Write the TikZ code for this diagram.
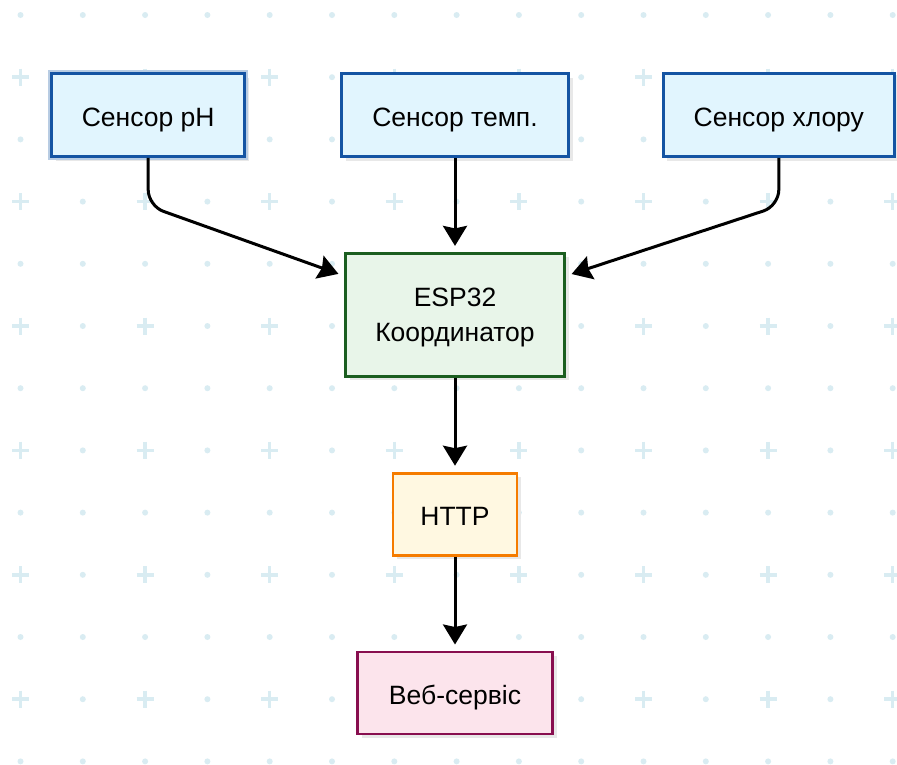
\documentclass[tikz,border=0pt]{standalone}
\usepackage{fontspec}
\setmainfont{Liberation Sans}
\usetikzlibrary{positioning,arrows.meta,shadows}
\definecolor{gridDot}{HTML}{D9ECF2}
\definecolor{sensorLine}{HTML}{1454A3}
\definecolor{sensorFill}{HTML}{E1F5FE}
\definecolor{espLine}{HTML}{1B5E20}
\definecolor{espFill}{HTML}{E8F5E9}
\definecolor{httpLine}{HTML}{F57C00}
\definecolor{httpFill}{HTML}{FFF8E1}
\definecolor{webLine}{HTML}{880E4F}
\definecolor{webFill}{HTML}{FCE4EC}

\begin{document}
\begin{tikzpicture}[x=1pt, y=-1pt, >={Stealth[length=20pt, width=24pt, inset=2.5pt]}, node distance=94pt,
          box/.style={draw, line width=2.8pt, align=center, font=\fontsize{26.5}{35}\selectfont,
            drop shadow={shadow xshift=4pt, shadow yshift=-4pt, fill=black!9, opacity=1}},
          oneline/.style={text height=23.5pt, text depth=0pt},
          sensor/.style={box, oneline, draw=sensorLine, fill=sensorFill, minimum height=83pt},
          hub/.style={box, text depth=0pt, draw=espLine, fill=espFill, minimum width=219pt, minimum height=123pt},
          proto/.style={box, oneline, draw=httpLine, fill=httpFill, minimum width=124pt, minimum height=82pt},
          service/.style={box, oneline, draw=webLine, fill=webFill, minimum width=195pt, minimum height=82pt},
          link/.style={->, line width=3pt, black, rounded corners=16pt, shorten >=6pt},
          gridplus/.style={gridDot, line width=3.5pt}]
        \useasboundingbox[fill=white] (0,0) rectangle (897,764);
        % background grid
        \foreach \i in {0,...,14} {
          \foreach \j in {0,...,12} {
            \pgfmathsetmacro{\gx}{20.5+62.3*\i}
            \pgfmathsetmacro{\gy}{15+62.2*\j}
            \pgfmathtruncatemacro{\isplus}{and(iseven(\i),isodd(\j))}
            \ifnum\isplus=1
              \draw[gridplus] (\gx-8.5,\gy) -- (\gx+8.5,\gy) (\gx,\gy-8.5) -- (\gx,\gy+8.5);
            \else
              \fill[gridDot] (\gx,\gy) circle (3pt);
            \fi
          }
        }
        \node[sensor, minimum width=227pt] (temp) at (455,115) {Сенсор темп.};
        \node[sensor, minimum width=193pt, left=of temp,
          preaction={draw=sensorLine!30, line width=6.5pt}] (ph) {Сенсор pH};
        \node[sensor, minimum width=231pt, right=92pt of temp] (chlor) {Сенсор хлору};
        \node[hub, below=of temp] (esp) {ESP32\\Координатор};
        \node[proto, below=of esp] (http) {HTTP};
        \node[service, below=of http] (web) {Веб-сервіс};
        \draw[link] (ph.south) -- ++(0,48) -- ([yshift=-24pt]esp.north west);
        \draw[link] (temp) -- (esp);
        \draw[link] (chlor.south) -- ++(0,48) -- ([yshift=-24pt]esp.north east);
        \draw[link] (esp) -- (http);
        \draw[link] (http) -- (web);
      \end{tikzpicture}
\end{document}
